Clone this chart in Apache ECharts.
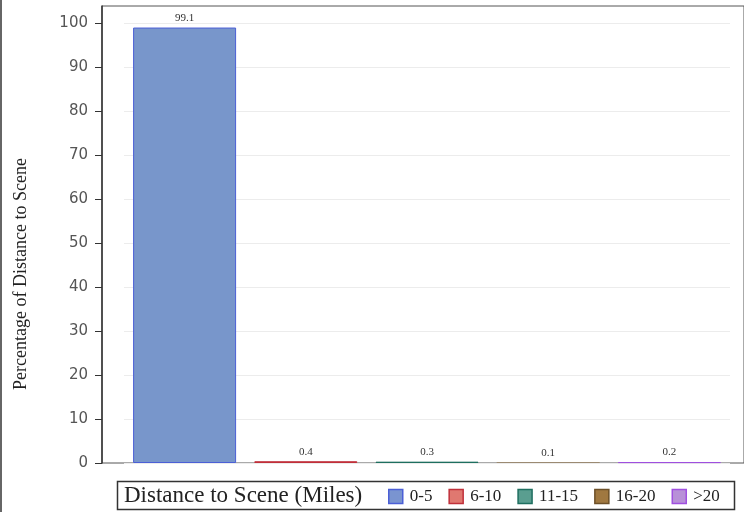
<!DOCTYPE html>
<html>
<head>
<meta charset="utf-8">
<script src="https://cdn.jsdelivr.net/npm/echarts@6/dist/echarts.min.js"></script>
<style>
html,body{margin:0;padding:0;background:#fff;}
#chart{width:744px;height:512px;}
</style>
</head>
<body>
<div id="chart"></div>
<script>
// data
const groups = ['0-5', '6-10', '11-15', '16-20', '>20'];
const percents = [99.1, 0.4, 0.3, 0.1, 0.2];
const fills = ['#7896cb', '#c0404a', '#2f7d70', '#8b6a3a', '#a860dc'];
const edges = ['#4b5fd6', '#c0303a', '#1f6f60', '#6d5028', '#a050e0'];
const edgeWidths = [1, 1, 1, 0, 1];
const legendFills = ['#7a94d0', '#e07870', '#5a9e90', '#a07840', '#b890d8'];
const yTicks = [0, 10, 20, 30, 40, 50, 60, 70, 80, 90, 100];

const serif = '"Liberation Serif", "DejaVu Serif", serif';

const series = groups.map(function (g, i) {
    return {
        name: g,
        type: 'bar',
        barWidth: 103,
        barGap: '-100%',
        data: groups.map(function (_, j) { return j === i ? percents[i] : '-'; }),
        itemStyle: {color: fills[i], borderColor: edges[i], borderWidth: edgeWidths[i]},
        label: {
            show: true, position: 'top', distance: 4,
            fontFamily: serif, fontSize: 11, color: '#333',
            formatter: function (p) { return p.value.toFixed(1); }
        },
        emphasis: {disabled: true}
    };
});

const chart = echarts.init(document.getElementById('chart'));
chart.setOption({
    animation: false,
    grid: [
        {left: 124, right: 14, top: 6, bottom: 49},
        {left: 102, right: -4, top: 6, bottom: 49, show: true, borderColor: '#555', borderWidth: 1, backgroundColor: 'transparent'}
    ],
    xAxis: [
        {type: 'category', data: groups, gridIndex: 0,
         axisLine: {show: false}, axisTick: {show: false}, axisLabel: {show: false}},
        {type: 'value', gridIndex: 1, show: false}
    ],
    yAxis: [
        {type: 'value', gridIndex: 0, min: 0, max: 104, interval: 10, offset: 22,
         axisLine: {show: true, lineStyle: {color: '#333', width: 1.5}},
         axisTick: {show: true, length: 7, lineStyle: {color: '#333'},
                    customValues: yTicks},
         axisLabel: {fontFamily: '"DejaVu Sans", sans-serif', fontSize: 15, color: '#555', margin: 14,
                     customValues: yTicks},
         splitLine: {show: true, lineStyle: {color: '#ececec'}}},
        {type: 'value', gridIndex: 1, show: false}
    ],
    legend: {
        left: 383, top: 483,
        itemWidth: 14, itemHeight: 14, itemGap: 16,
        textStyle: {fontFamily: serif, fontSize: 17, color: '#222', padding: [0, 0, 0, 2]},
        data: groups.map(function (g, i) {
            return {name: g, icon: 'rect',
                    itemStyle: {color: legendFills[i], borderColor: edges[i], borderWidth: 1.5}};
        })
    },
    graphic: [
        {type: 'rect', shape: {x: 117.5, y: 481.5, width: 617, height: 28},
         style: {fill: 'none', stroke: '#333', lineWidth: 1.5}},
        {type: 'text', x: 124, y: 484,
         style: {text: 'Distance to Scene (Miles)', font: '23px ' + serif, fill: '#222'}},
        {type: 'text', x: 21, y: 274, rotation: Math.PI / 2,
         style: {text: 'Percentage of Distance to Scene', font: '18px ' + serif, fill: '#222',
                 align: 'center', verticalAlign: 'middle'}},
        {type: 'line', shape: {x1: 1, y1: 0, x2: 1, y2: 512}, style: {stroke: '#333', lineWidth: 1.5}}
    ],
    series: series
});
</script>
</body>
</html>
